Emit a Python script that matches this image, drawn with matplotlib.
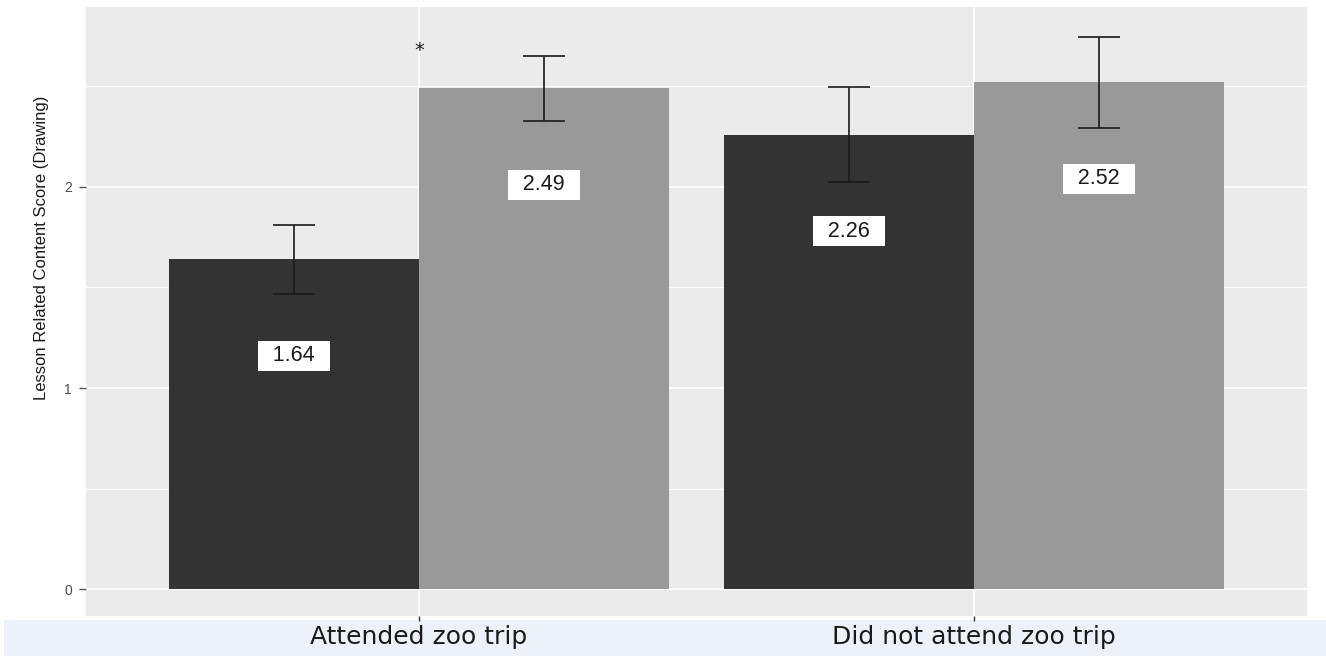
import matplotlib.pyplot as plt
from matplotlib.patches import Rectangle
import numpy as np

groups = ["Attended zoo trip", "Did not attend zoo trip"]
means_dark = [1.64, 2.26]
means_gray = [2.49, 2.52]
err_dark = [0.17, 0.235]
err_gray = [0.16, 0.226]
ylabel = "Lesson Related Content Score (Drawing)"

W, H = 1326, 656
fig = plt.figure(figsize=(W / 100, H / 100), dpi=100)
fig.patch.set_facecolor("white")

# light blue band behind the category labels
fig.patches.append(Rectangle((4 / W, 0), 1 - 4 / W, 36 / H, transform=fig.transFigure,
                             facecolor="#edf2fa", edgecolor="none", zorder=-1))

ax = fig.add_axes([86 / W, 40 / H, (1307 - 86) / W, (616 - 7) / H])
ax.set_facecolor("#ebebeb")
for s in ax.spines.values():
    s.set_visible(False)

x = np.arange(1, len(groups) + 1)
bw = 0.45
ax.bar(x - bw / 2, means_dark, bw, color="#333333", zorder=2)
ax.bar(x + bw / 2, means_gray, bw, color="#999999", zorder=2)
ax.errorbar(x - bw / 2, means_dark, yerr=err_dark, fmt="none", ecolor="#1a1a1a",
            elinewidth=1.2, capsize=15, capthick=1.2, zorder=3)
ax.errorbar(x + bw / 2, means_gray, yerr=err_gray, fmt="none", ecolor="#1a1a1a",
            elinewidth=1.2, capsize=15, capthick=1.2, zorder=3)

# value labels in white boxes
sp = "\u2002"
for xs, ms in ((x - bw / 2, means_dark), (x + bw / 2, means_gray)):
    for xi, m in zip(xs, ms):
        ax.text(xi, m - 0.48, f"{sp}{m:.2f}{sp}", ha="center", va="center", fontsize=15.5,
                color="#1a1a1a", zorder=4, family="Liberation Sans",
                bbox=dict(boxstyle="square,pad=0.2", facecolor="white", edgecolor="none"))

ax.text(1, 2.68, "*", ha="center", va="center", fontsize=14, color="#1a1a1a", zorder=4)

ax.set_xlim(0.4, 2.6)
ax.set_ylim(-0.134, 2.895)
ax.set_yticks([0, 1, 2])
ax.set_yticks([0.5, 1.5, 2.5], minor=True)
ax.set_yticklabels(["0", "1", "2"], family="Liberation Sans")
ax.set_xticks(x)
ax.set_xticklabels(groups, fontsize=18, color="#1a1a1a", family="DejaVu Sans")
ax.tick_params(axis="x", length=3.5, width=1, color="#333333", pad=3)
ax.tick_params(axis="y", which="major", length=5, width=1, color="#555555",
               labelsize=10, labelcolor="#4d4d4d", pad=5)
ax.tick_params(axis="y", which="minor", length=0)
ax.grid(True, which="major", color="white", linewidth=1.3, zorder=1)
ax.grid(True, which="minor", axis="y", color="white", linewidth=0.7, zorder=1)
ax.set_axisbelow(True)

ax.set_ylabel(ylabel, fontsize=12, family="Liberation Sans", color="#1a1a1a")
ax.yaxis.set_label_coords(-0.03, 0.604)

fig.savefig("out.png", dpi=100)
